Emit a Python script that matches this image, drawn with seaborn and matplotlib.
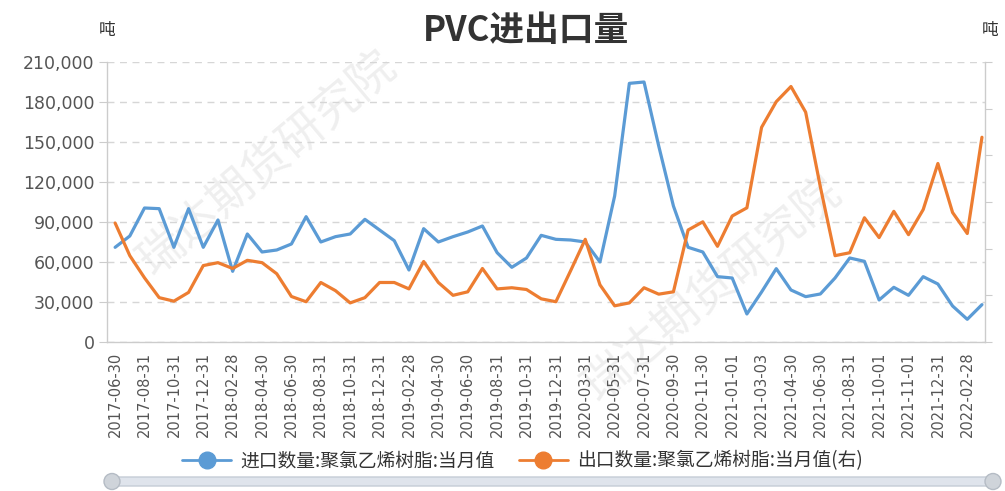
import numpy as np
import pandas as pd
import seaborn as sns
import matplotlib.pyplot as plt
from matplotlib.lines import Line2D
from matplotlib.patches import FancyBboxPatch, Ellipse
from matplotlib.ticker import FuncFormatter

# month-end dates (category axis)
dates = [
    "2017-06-30", "2017-07-31", "2017-08-31", "2017-09-30", "2017-10-31", "2017-11-30",
    "2017-12-31", "2018-01-31", "2018-02-28", "2018-03-31", "2018-04-30", "2018-05-31",
    "2018-06-30", "2018-07-31", "2018-08-31", "2018-09-30", "2018-10-31", "2018-11-30",
    "2018-12-31", "2019-01-31", "2019-02-28", "2019-03-31", "2019-04-30", "2019-05-31",
    "2019-06-30", "2019-07-31", "2019-08-31", "2019-09-30", "2019-10-31", "2019-11-30",
    "2019-12-31", "2020-02-29", "2020-03-31", "2020-04-30", "2020-05-31", "2020-06-30",
    "2020-07-31", "2020-08-31", "2020-09-30", "2020-10-31", "2020-11-30", "2020-12-31",
    "2021-01-01", "2021-02-28", "2021-03-03", "2021-03-31", "2021-04-30", "2021-05-31",
    "2021-06-30", "2021-07-31", "2021-08-31", "2021-09-30", "2021-10-01", "2021-10-31",
    "2021-11-01", "2021-11-30", "2021-12-31", "2022-01-31", "2022-02-28", "2022-03-31",
]

# 进口数量 (left axis, 吨)
imports = [
    71000, 79500, 100500, 100000, 71000, 100000, 71000, 91500, 53000, 81000,
    67500, 69000, 73500, 94000, 75000, 79000, 81000, 92000, 84000, 76000,
    54000, 85000, 75000, 79000, 82500, 87000, 67000, 56000, 63000, 80000,
    77000, 76500, 75000, 60000, 109500, 194000, 195000, 147000, 102000, 71000,
    67500, 49000, 48000, 21000, 37500, 55000, 39000, 34000, 36000, 48000,
    63000, 60500, 31500, 41000, 35000, 49000, 43500, 27000, 17000, 28000,
]

# 出口数量 (right axis, 吨)
exports = [
    102000, 74000, 55000, 38000, 35000, 42500, 65500, 68000, 63000, 70000,
    68000, 58500, 39000, 34500, 51000, 44000, 33500, 38000, 51000, 51000,
    45500, 69000, 51000, 40000, 43000, 63000, 45500, 46500, 45000, 37000,
    34500, 61000, 88000, 49000, 31000, 33500, 46500, 41000, 43000, 96000,
    103000, 82000, 108000, 115000, 184000, 206000, 219000, 197000, 133000, 74000,
    76500, 106500, 89500, 112000, 92000, 113500, 153000, 111000, 93000, 175500,
]

labels = ["进口数量:聚氯乙烯树脂:当月值", "出口数量:聚氯乙烯树脂:当月值(右)"]
blue = "#5b9bd5"
orange = "#ed7d31"
cjk = ["Noto Sans CJK SC", "DejaVu Sans"]

sns.set_style("white")
plt.rcParams["font.family"] = ["DejaVu Sans", "Noto Sans CJK SC"]

df = pd.DataFrame({"date": dates, "imports": imports, "exports": exports})
df["idx"] = np.arange(len(df))

fig = plt.figure(figsize=(10.05, 4.91), dpi=100)
ax = fig.add_axes([0.1065, 0.3035, 0.8735, 0.5702])
ax.patch.set_visible(False)
ax2 = ax.twinx()

sns.lineplot(data=df, x="idx", y="imports", ax=ax, color=blue, lw=2.3,
             solid_joinstyle="round", zorder=3)
sns.lineplot(data=df, x="idx", y="exports", ax=ax2, color=orange, lw=2.3,
             solid_joinstyle="round", zorder=3)

# left axis
ax.set_ylim(0, 210000)
ax.set_yticks(range(0, 210001, 30000))
ax.yaxis.set_major_formatter(FuncFormatter(lambda v, p: f"{int(v):,}"))
ax.yaxis.grid(True, ls=(0, (5, 4)), color="#d6d6d6", lw=1)
ax.tick_params(axis="y", length=6, color="#cccccc", labelsize=12.5,
               labelcolor="#555555", pad=3)

# right axis (labels fall outside the picture)
ax2.set_ylim(0, 240000)
ax2.set_yticks(range(0, 240001, 40000))
ax2.set_yticklabels([])
ax2.tick_params(axis="y", length=5, color="#cccccc")

# category x axis
ax.set_xlim(-0.55, 59.2)
ax.set_xticks(df["idx"][::2])
ax.set_xticklabels(df["date"][::2], rotation=90)
ax.set_xticks(df["idx"][1::2], minor=True)
ax.tick_params(axis="x", which="major", length=0, labelsize=10.5,
               labelcolor="#555555", pad=7)
ax.tick_params(axis="x", which="minor", length=5, color="#cccccc")

for a in (ax, ax2):
    a.set_xlabel("")
    a.set_ylabel("")
    for s in a.spines.values():
        s.set_visible(False)
ax.spines["left"].set_visible(True)
ax.spines["bottom"].set_visible(True)
ax2.spines["right"].set_visible(True)
for s in (ax.spines["left"], ax.spines["bottom"], ax2.spines["right"]):
    s.set_color("#cccccc")
    s.set_linewidth(1)

# watermark
for x, y in [(0.266, 0.668), (0.708, 0.41)]:
    ax.text(x, y, "瑞达期货研究院", transform=fig.transFigure, rotation=40,
            ha="center", va="center", fontsize=33, color="#efefef",
            family=cjk, zorder=0)

# title and units
fig.text(0.523, 1 - 30 / 491, "PVC进出口量", ha="center", va="center",
         fontsize=25, fontweight="bold", color="#333333", family=cjk)
fig.text(107 / 1005, 1 - 31 / 491, "吨", ha="center", va="center",
         fontsize=12, color="#333333", family=cjk)
fig.text(990 / 1005, 1 - 31 / 491, "吨", ha="center", va="center",
         fontsize=12, color="#333333", family=cjk)

# legend
handles = [Line2D([], [], color=c, lw=2, marker="o", markersize=12)
           for c in (blue, orange)]
fig.legend(handles, labels, loc="center", bbox_to_anchor=(0.52, 1 - 461 / 491),
           ncol=2, frameon=False, handlelength=2.6, columnspacing=1.3,
           handletextpad=0.5, prop={"family": cjk, "size": 13.5},
           labelcolor="#333333")

# data zoom slider strip at the bottom
fig.patches.append(FancyBboxPatch((105 / 1005, 5 / 491), 885 / 1005, 9 / 491,
                                  boxstyle="round,pad=0,rounding_size=0.004",
                                  transform=fig.transFigure, fc="#dfe4ec",
                                  ec="#c5ccd6", lw=1))
for x in (112, 993):
    fig.patches.append(Ellipse((x / 1005, 9.5 / 491), 16 / 1005, 16 / 491,
                               transform=fig.transFigure, fc="#cfd4da",
                               ec="#b5bcc5", lw=1))

fig.savefig("out.png", dpi=100)
